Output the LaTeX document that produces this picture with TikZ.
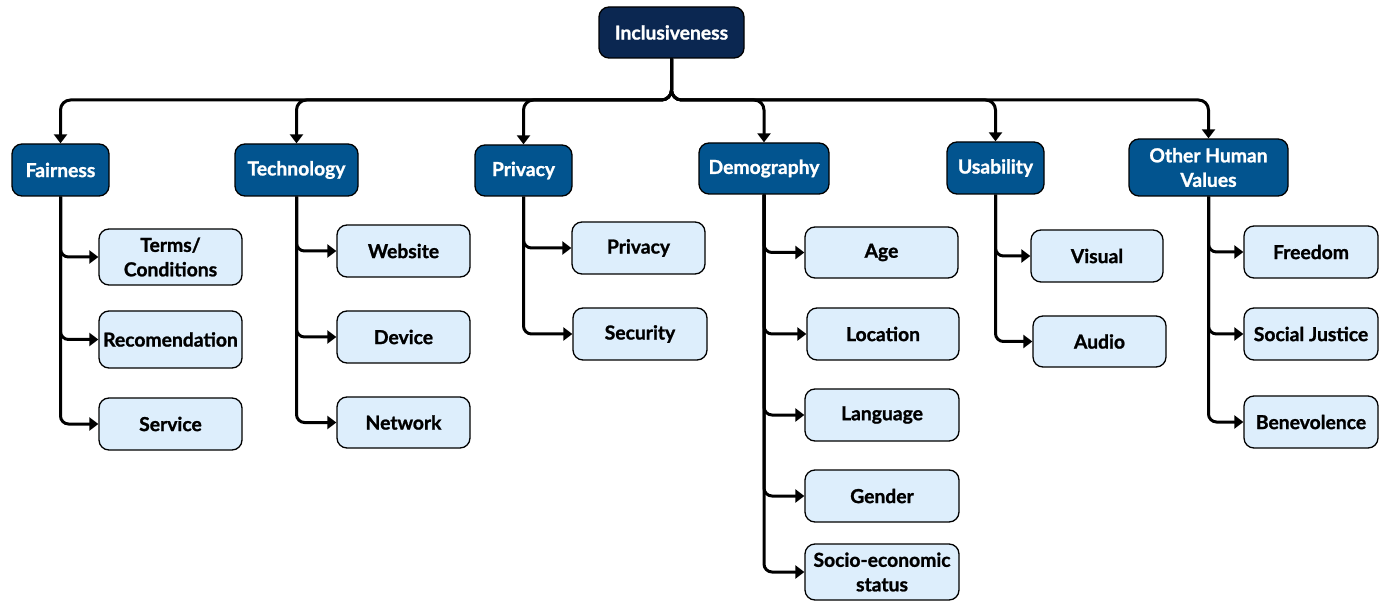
\documentclass[tikz,border=0pt]{standalone}
\usepackage{fontspec}
\setmainfont{Lato}[BoldFeatures={FakeBold=1.2}]
\usetikzlibrary{arrows.meta}
\definecolor{rootc}{HTML}{0B2751}
\definecolor{catc}{HTML}{02548F}
\definecolor{leafc}{HTML}{DDEEFC}
\begin{document}
\begin{tikzpicture}[x=1pt,y=-1pt,
  box/.style={draw=black, line width=1.3pt, rounded corners=10pt, inner sep=0pt, align=center,
    font=\fontsize{19.3}{24.5}\selectfont\bfseries},
  rootbox/.style={box, fill=rootc, text=white},
  catbox/.style={box, fill=catc, text=white},
  leafbox/.style={box, fill=leafc, text=black},
  conn/.style={line width=3pt, -{Triangle[width=13pt,length=9pt]}, rounded corners=10pt},
  sub/.style={line width=3pt, -{Triangle[width=13pt,length=9pt]}, rounded corners=8pt}]
\useasboundingbox (0,0) rectangle (1384,601);
\coordinate (bus) at (0,100);
% root
\node[rootbox, minimum width=145pt, minimum height=51pt] (root) at (671.5,32.5) {Inclusiveness};
% categories
\node[catbox, minimum width=97pt, minimum height=52pt] (fair) at (60.5,170) {Fairness};
\node[catbox, minimum width=123pt, minimum height=52pt] (tech) at (296.5,170) {Technology};
\node[catbox, minimum width=97pt, minimum height=51pt] (priv) at (523.5,170.5) {Privacy};
\node[catbox, minimum width=130pt, minimum height=51pt] (demo) at (764,168.5) {Demography};
\node[catbox, minimum width=97pt, minimum height=52pt] (usab) at (995.5,168) {Usability};
\node[catbox, minimum width=159pt, minimum height=57pt] (other) at (1208.5,167.5) {Other Human\\Values};
% leaves
\node[leafbox, minimum width=143pt, minimum height=56pt] (terms) at (170.5,257) {Terms/\\Conditions};
\node[leafbox, minimum width=143pt, minimum height=57pt] (recom) at (170.5,339.5) {Recomendation};
\node[leafbox, minimum width=143pt, minimum height=52pt] (serv) at (170.5,424) {Service};
\node[leafbox, minimum width=133pt, minimum height=52pt] (web) at (403.5,251) {Website};
\node[leafbox, minimum width=133pt, minimum height=52pt] (dev) at (403.5,337) {Device};
\node[leafbox, minimum width=133pt, minimum height=51pt] (net) at (403.5,422.5) {Network};
\node[leafbox, minimum width=133pt, minimum height=52pt] (privl) at (638.5,248) {Privacy};
\node[leafbox, minimum width=134pt, minimum height=52pt] (sec) at (640,334) {Security};
\node[leafbox, minimum width=153pt, minimum height=51pt] (age) at (881.5,252.5) {Age};
\node[leafbox, minimum width=152pt, minimum height=52pt] (loc) at (883,334) {Location};
\node[leafbox, minimum width=154pt, minimum height=52pt] (lang) at (882,415) {Language};
\node[leafbox, minimum width=154pt, minimum height=52pt] (gend) at (882,496) {Gender};
\node[leafbox, minimum width=154pt, minimum height=56pt] (socio) at (882,572) {Socio-economic\\status};
\node[leafbox, minimum width=132pt, minimum height=52pt] (vis) at (1097,256) {Visual};
\node[leafbox, minimum width=133pt, minimum height=51pt] (aud) at (1099.5,341.5) {Audio};
\node[leafbox, minimum width=134pt, minimum height=52pt] (free) at (1311,252) {Freedom};
\node[leafbox, minimum width=134pt, minimum height=52pt] (soc) at (1311,334) {Social Justice};
\node[leafbox, minimum width=134pt, minimum height=52pt] (bene) at (1311,422) {Benevolence};
% bus connectors
\foreach \c in {fair,tech,priv,demo,usab,other}
  \draw[conn] (root.south) -- (root.south |- bus) -| (\c.north);
% sub connectors
\foreach \p/\l in {fair/terms,fair/recom,fair/serv,tech/web,tech/dev,tech/net,priv/privl,priv/sec,
  demo/age,demo/loc,demo/lang,demo/gend,demo/socio,usab/vis,usab/aud,other/free,other/soc,other/bene}
  \draw[sub] (\p.south) |- (\l.west);
\end{tikzpicture}
\end{document}
